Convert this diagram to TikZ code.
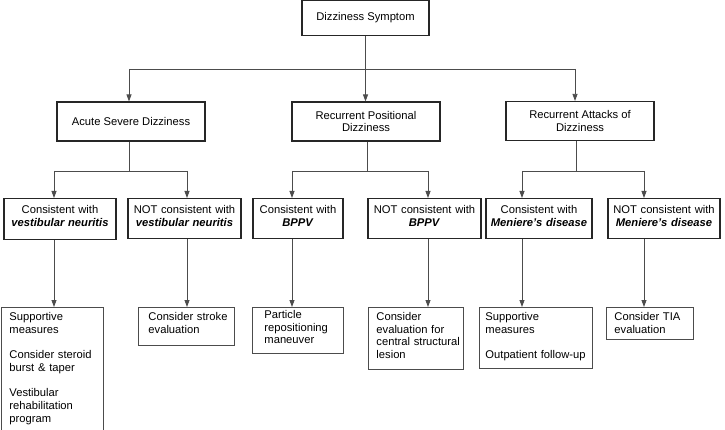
\documentclass[tikz,border=0pt]{standalone}
\usepackage{fontspec}
\setmainfont{Liberation Sans}
\usetikzlibrary{arrows.meta}
\begin{document}
\begin{tikzpicture}[x=1pt,y=-1pt,
  every node/.style={font=\fontsize{11.2pt}{12.7pt}\selectfont},
  cbox/.style={draw=black!85, line width=1.1pt, align=center, inner sep=0pt, minimum width=148pt, minimum height=39pt},
  tbox/.style={draw=black!85, line width=1.1pt, anchor=north, align=center, inner xsep=0pt, inner ysep=6pt, text height=9pt},
  lbox/.style={draw=black!70, line width=0.9pt, anchor=north west, align=left, inner ysep=5pt, text height=8pt},
  conn/.style={draw=black!70, line width=0.8pt},
  arr/.style={conn, -{Triangle[length=7pt,width=5pt]}}]
\useasboundingbox (0,0) rectangle (725,430);
\clip (0,0) rectangle (725,430);

% top
\node[cbox, minimum width=127pt, minimum height=35pt] (T) at (365.5,18) {Dizziness Symptom};

% level 1
\node[cbox] (L1a) at (131,121.5) {Acute Severe Dizziness};
\node[cbox] (L1b) at (366,121.5) {Recurrent Positional\\Dizziness};
\node[cbox] (L1c) at (580,121) {Recurrent Attacks of\\Dizziness};

% level 2
\node[tbox, text width=112pt, text depth=20pt] (L2a) at (60,198) {Consistent with\\\textbf{\textit{vestibular neuritis}}};
\node[tbox, text width=113pt, text depth=19pt] (L2b) at (184.5,198) {NOT consistent with\\\textbf{\textit{vestibular neuritis}}};
\node[tbox, text width=90pt, text depth=19pt] (L2c) at (298,198) {Consistent with\\\textbf{\textit{BPPV}}};
\node[tbox, text width=113pt, text depth=19pt] (L2d) at (424.5,198) {NOT consistent with\\\textbf{\textit{BPPV}}};
\node[tbox, text width=106pt, text depth=19pt] (L2e) at (539,198) {Consistent with\\\textbf{\textit{Meniere's disease}}};
\node[tbox, text width=112pt, text depth=19pt] (L2f) at (664,198) {NOT consistent with\\\textbf{\textit{Meniere's disease}}};

% level 3
\node[lbox, inner xsep=8pt, text width=86pt, text depth=122pt] (L3a) at (1,307)
  {Supportive\\measures\\[12.7pt]\mbox{Consider steroid}\\burst \& taper\\[12.7pt]Vestibular\\rehabilitation\\program};
\node[lbox, inner xsep=10pt, text width=76pt, text depth=20pt] (L3b) at (138,307)
  {\mbox{Consider stroke}\\evaluation};
\node[lbox, inner xsep=12pt, text width=67pt, inner ysep=4pt, text height=7pt, text depth=31pt] (L3c) at (252,307)
  {Particle\\\mbox{repositioning}\\maneuver};
\node[lbox, inner xsep=8pt, text width=79pt, text depth=44pt] (L3d) at (368,307)
  {Consider\\\mbox{evaluation for}\\\mbox{central structural}\\lesion};
\node[lbox, inner xsep=6pt, text width=101pt, text depth=43pt] (L3e) at (479,307)
  {Supportive\\measures\\[12.7pt]\mbox{Outpatient follow-up}};
\node[lbox, inner xsep=8pt, text width=71pt, text depth=14pt] (L3f) at (606,307)
  {\mbox{Consider TIA}\\evaluation};

% junction coordinates
\coordinate (h0L) at (129,69);
\coordinate (h0R) at (575,69);
\coordinate (aM) at (129,171);
\coordinate (aL) at (54,171);
\coordinate (aR) at (187,171);
\coordinate (bM) at (367,171);
\coordinate (bL) at (292,171);
\coordinate (bR) at (428,171);
\coordinate (cM) at (576,171);
\coordinate (cL) at (522,171);
\coordinate (cR) at (644,171);

% top -> level 1
\draw[arr] (T.south) -- (T.south |- L1b.north);
\draw[conn] (h0L) -- (h0R);
\draw[arr] (h0L) -- (h0L |- L1a.north);
\draw[arr] (h0R) -- (h0R |- L1c.north);

% level 1 -> level 2
\draw[conn] (L1a.south -| aM) -- (aM);
\draw[conn] (aL) -- (aR);
\draw[arr] (aL) -- (aL |- L2a.north);
\draw[arr] (aR) -- (aR |- L2b.north);

\draw[conn] (L1b.south -| bM) -- (bM);
\draw[conn] (bL) -- (bR);
\draw[arr] (bL) -- (bL |- L2c.north);
\draw[arr] (bR) -- (bR |- L2d.north);

\draw[conn] (L1c.south -| cM) -- (cM);
\draw[conn] (cL) -- (cR);
\draw[arr] (cL) -- (cL |- L2e.north);
\draw[arr] (cR) -- (cR |- L2f.north);

% level 2 -> level 3
\draw[arr] (L2a.south -| aL) -- (L3a.north -| aL);
\draw[arr] (L2b.south -| aR) -- (L3b.north -| aR);
\draw[arr] (L2c.south -| bL) -- (L3c.north -| bL);
\draw[arr] (L2d.south -| bR) -- (L3d.north -| bR);
\draw[arr] (L2e.south -| cL) -- (L3e.north -| cL);
\draw[arr] (L2f.south -| cR) -- (L3f.north -| cR);
\end{tikzpicture}
\end{document}
